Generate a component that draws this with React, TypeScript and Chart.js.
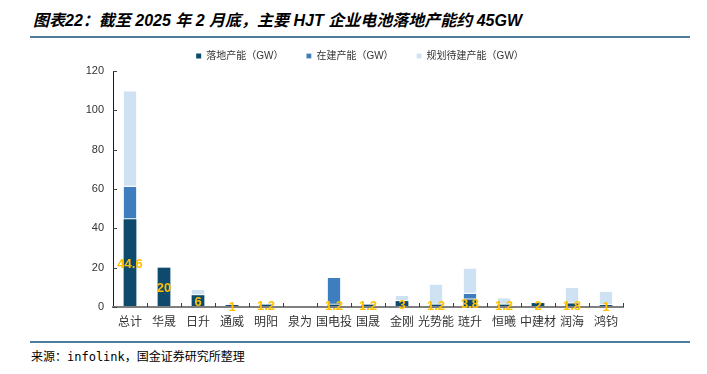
import React, { useEffect, useRef } from 'react';
import { Chart, registerables } from 'chart.js';

Chart.register(...registerables);

const categories = ['总计', '华晟', '日升', '通威', '明阳', '泉为', '国电投', '国晟', '金刚', '光势能', '琏升', '恒曦', '中建材', '润海', '鸿钧'];
const landed = [44.6, 20, 6, 1, 1.2, 0, 1.2, 1.2, 3, 1.2, 3.8, 1.2, 2, 1.8, 1];
const building = [16.6, 0, 0, 0, 0, 0, 13.6, 0, 0, 0, 3, 0, 0, 0, 0];
const planned = [48.5, 0, 2.8, 0, 0, 0, 0, 0, 2.6, 10.2, 12.8, 3.2, 0, 7.9, 6.7];
const seriesNames = ['落地产能（GW）', '在建产能（GW）', '规划待建产能（GW）'];
const yTickValues = [0, 20, 40, 60, 80, 100, 120];

const TITLE = '图表22：截至 2025 年 2 月底，主要 HJT 企业电池落地产能约 45GW';
const SOURCE = '来源：infolink，国金证券研究所整理';
const FONT = '"Liberation Sans", Arial, "Noto Sans CJK SC", sans-serif';

const overlayPlugin = {
  id: 'overlay',
  afterDraw(chart: any) {
    const ctx = chart.ctx;
    const area = chart.chartArea;
    const ys = chart.scales.y;
    ctx.save();
    ctx.strokeStyle = '#404040';
    ctx.lineWidth = 1;
    const n = categories.length;
    const step = (area.right - area.left) / n;
    for (let i = 1; i <= n; i++) {
      const x = Math.round(area.left + step * i) + 0.5;
      ctx.beginPath();
      ctx.moveTo(x, area.bottom);
      ctx.lineTo(x, area.bottom - 4);
      ctx.stroke();
    }
    yTickValues.forEach((v) => {
      const y = Math.round(ys.getPixelForValue(v)) + 0.5;
      ctx.beginPath();
      ctx.moveTo(area.left, y);
      ctx.lineTo(area.left + 4, y);
      ctx.stroke();
    });
    ctx.font = 'bold 13px ' + FONT;
    ctx.fillStyle = '#FFC000';
    ctx.textAlign = 'center';
    ctx.textBaseline = 'middle';
    const meta = chart.getDatasetMeta(0);
    meta.data.forEach((el: any, i: number) => {
      const v = landed[i];
      if (!v) return;
      const p = el.getProps(['x', 'y', 'base'], true);
      ctx.fillText(String(v), p.x, (p.y + p.base) / 2 + 1);
    });
    ctx.restore();
  },
};

export default function App() {
  const canvasRef = useRef<HTMLCanvasElement | null>(null);

  useEffect(() => {
    const canvas = canvasRef.current;
    if (!canvas) return;
    const chart = new Chart(canvas, {
      type: 'bar',
      data: {
        labels: categories,
        datasets: [
          {
            label: seriesNames[0],
            data: landed,
            backgroundColor: '#0D4A6E',
            borderWidth: 0,
            barPercentage: 0.375,
            categoryPercentage: 1,
          },
          {
            label: seriesNames[1],
            data: building,
            backgroundColor: '#3F7EBE',
            borderColor: '#FFFFFF',
            borderWidth: { top: 0, left: 0, right: 0, bottom: 1 },
            borderSkipped: false,
            barPercentage: 0.375,
            categoryPercentage: 1,
          },
          {
            label: seriesNames[2],
            data: planned,
            backgroundColor: '#CFE2F3',
            borderColor: '#FFFFFF',
            borderWidth: { top: 0, left: 0, right: 0, bottom: 1 },
            borderSkipped: false,
            barPercentage: 0.375,
            categoryPercentage: 1,
          },
        ],
      },
      options: {
        animation: false,
        responsive: true,
        maintainAspectRatio: false,
        layout: { padding: 0 },
        plugins: {
          legend: {
            position: 'top',
            align: 'center',
            maxHeight: 50,
            labels: {
              boxWidth: 5,
              boxHeight: 5,
              padding: 23,
              color: '#333333',
              font: { size: 10, family: FONT },
            },
          },
          tooltip: { enabled: false },
        },
        scales: {
          x: {
            stacked: true,
            offset: true,
            grid: { display: false, drawTicks: false },
            border: { display: true, color: '#7F7F7F', width: 2, z: 1 },
            ticks: {
              color: '#333333',
              font: { size: 12, family: FONT },
              padding: 8,
              maxRotation: 0,
              minRotation: 0,
              autoSkip: false,
            },
            afterFit: (s: any) => {
              s.height = 30;
            },
          },
          y: {
            stacked: true,
            min: 0,
            max: 120,
            grid: { display: false, drawTicks: false },
            border: { display: true, color: '#1A1A1A', width: 1 },
            ticks: {
              stepSize: 20,
              padding: 9,
              color: '#333333',
              font: { size: 11, family: FONT },
            },
            afterFit: (s: any) => {
              s.width = 83;
            },
          },
          yRightSpace: {
            position: 'right',
            display: true,
            min: 0,
            max: 120,
            grid: { display: false, drawTicks: false },
            border: { display: false },
            ticks: { display: false },
            afterFit: (s: any) => {
              s.width = 67;
            },
          },
        },
      },
      plugins: [overlayPlugin],
    } as any);
    return () => chart.destroy();
  }, []);

  return (
    <div
      style={{
        position: 'fixed',
        left: 0,
        top: 0,
        width: 707,
        height: 374,
        background: '#ffffff',
        overflow: 'hidden',
      }}
    >
      <div
        style={{
          position: 'absolute',
          left: 33,
          top: 11,
          whiteSpace: 'nowrap',
          fontFamily: FONT,
          fontStyle: 'italic',
          fontWeight: 'bold',
          fontSize: 16,
          lineHeight: '20px',
          color: '#000',
        }}
      >
        {TITLE}
      </div>
      <div style={{ position: 'absolute', left: 30, top: 36, width: 660, height: 2, background: '#4E7D99' }} />
      <div style={{ position: 'absolute', left: 30, top: 28, width: 660, height: 309 }}>
        <canvas ref={canvasRef} />
      </div>
      <div style={{ position: 'absolute', left: 30, top: 341, width: 660, height: 2, background: '#4E7D99' }} />
      <div
        style={{
          position: 'absolute',
          left: 31,
          top: 349,
          whiteSpace: 'nowrap',
          fontFamily: '"DejaVu Sans Mono", "Noto Sans CJK SC", monospace',
          fontSize: 12,
          lineHeight: '16px',
          color: '#000',
        }}
      >
        {SOURCE}
      </div>
    </div>
  );
}
